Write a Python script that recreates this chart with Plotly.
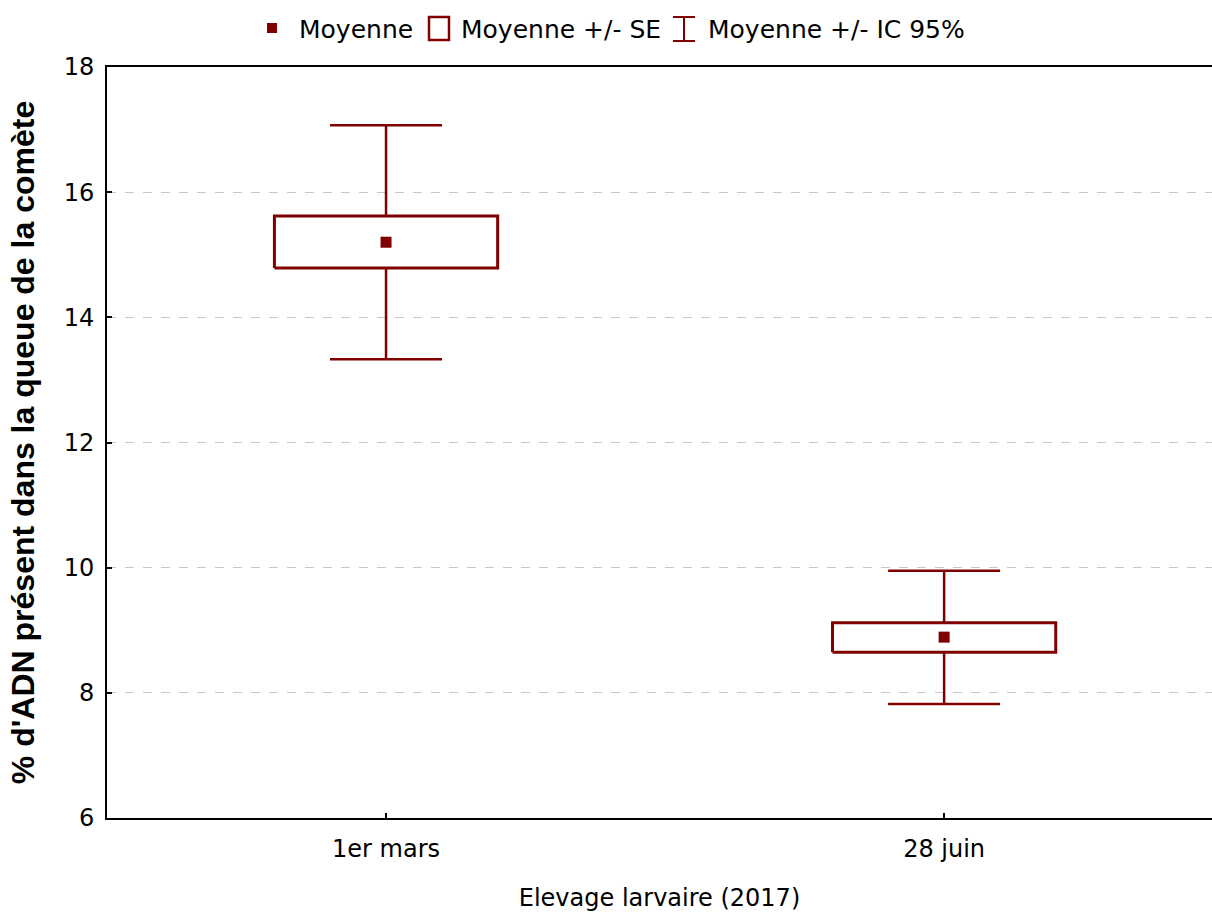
import plotly.graph_objects as go

# Comet assay: % DNA in tail, by larval rearing date (2017)
categories = ["1er mars", "28 juin"]
means = [15.20, 8.89]
se_low = [14.79, 8.65]
se_high = [15.62, 9.12]
ci_low = [13.33, 7.82]
ci_high = [17.07, 9.95]

RED = "#800000"
FONT = "DejaVu Sans"
W, H = 1212, 912
ML, MR, MT, MB = 107, 0, 67, 94
PW, PH = W - ML - MR, H - MT - MB
BOX_HALF = 0.2

xs = list(range(len(categories)))

fig = go.Figure()

# 95% CI whiskers (drawn first so the SE boxes hide the stem inside them)
fig.add_trace(go.Scatter(
    x=xs, y=means, mode="markers",
    marker=dict(size=1, color="rgba(0,0,0,0)"),
    error_y=dict(
        type="data", symmetric=False,
        array=[h - m for h, m in zip(ci_high, means)],
        arrayminus=[m - l for m, l in zip(means, ci_low)],
        color=RED, thickness=2.5, width=56,
    ),
    showlegend=False, hoverinfo="skip",
))

# mean +/- SE boxes
for i, (lo, hi) in enumerate(zip(se_low, se_high)):
    fig.add_trace(go.Scatter(
        x=[i - BOX_HALF, i + BOX_HALF, i + BOX_HALF, i - BOX_HALF, i - BOX_HALF],
        y=[lo, lo, hi, hi, lo],
        mode="lines", fill="toself", fillcolor="white",
        line=dict(color=RED, width=3),
        showlegend=False, hoverinfo="skip",
    ))

# means
fig.add_trace(go.Scatter(
    x=xs, y=means, mode="markers",
    marker=dict(symbol="square", size=11, color=RED),
    showlegend=False,
))


def px_x(p):
    return (p - ML) / PW


def px_y(p):
    return (H - MB - p) / PH


# legend drawn by hand across the top
shapes = [
    dict(type="rect", xref="paper", yref="paper",
         x0=px_x(267), x1=px_x(277), y0=px_y(33), y1=px_y(23),
         fillcolor=RED, line=dict(width=0)),
    dict(type="rect", xref="paper", yref="paper",
         x0=px_x(429), x1=px_x(449), y0=px_y(40), y1=px_y(17),
         fillcolor="white", line=dict(color=RED, width=2.5)),
    dict(type="line", xref="paper", yref="paper",
         x0=px_x(684), x1=px_x(684), y0=px_y(41), y1=px_y(17),
         line=dict(color=RED, width=2)),
    dict(type="line", xref="paper", yref="paper",
         x0=px_x(673), x1=px_x(695), y0=px_y(17), y1=px_y(17),
         line=dict(color=RED, width=2)),
    dict(type="line", xref="paper", yref="paper",
         x0=px_x(673), x1=px_x(695), y0=px_y(41), y1=px_y(41),
         line=dict(color=RED, width=2)),
]
legend_items = [("Moyenne", 297), ("Moyenne +/- SE", 459), ("Moyenne +/- IC 95%", 706)]
annotations = [
    dict(text=t, xref="paper", yref="paper", x=px_x(x0), y=px_y(29),
         xanchor="left", yanchor="middle", showarrow=False,
         font=dict(family=FONT, size=25, color="black"))
    for t, x0 in legend_items
]

fig.update_layout(
    width=W, height=H,
    margin=dict(l=ML, r=MR, t=MT, b=MB),
    paper_bgcolor="white", plot_bgcolor="white",
    showlegend=False,
    shapes=shapes, annotations=annotations,
    font=dict(family=FONT, size=24, color="black"),
)

fig.update_xaxes(
    range=[-0.5, 1.48],
    tickmode="array", tickvals=xs, ticktext=categories,
    ticks="inside", ticklen=5, tickwidth=1.5, tickcolor="black",
    showline=True, linecolor="black", linewidth=2, mirror=True,
    showgrid=False, zeroline=False, automargin=False,
    tickfont=dict(family=FONT, size=24),
    ticklabelstandoff=8,
    title=dict(text="Elevage larvaire (2017)", standoff=32,
               font=dict(family=FONT, size=24)),
)
fig.update_yaxes(
    range=[6, 18], dtick=2,
    ticks="inside", ticklen=5, tickwidth=1.5, tickcolor="black",
    showline=True, linecolor="black", linewidth=2,
    showgrid=True, gridcolor="#c8c8c8", gridwidth=1, griddash="dash",
    zeroline=False, automargin=False,
    tickfont=dict(family=FONT, size=24),
    ticklabelstandoff=6,
    title=dict(text="<b>% d'ADN présent dans la queue de la comète</b>",
               standoff=19,
               font=dict(family="Liberation Sans", size=32)),
)

fig.write_html("out.html")
